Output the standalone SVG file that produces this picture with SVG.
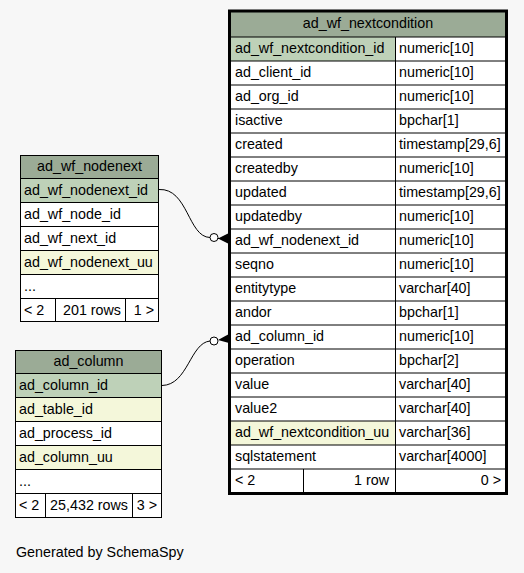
<svg xmlns="http://www.w3.org/2000/svg" width="524" height="573" viewBox="0 0 524 573">
<style>
text{font-family:"Liberation Sans",Arial,sans-serif;font-size:14.3px;fill:#000}
.c{text-anchor:middle}
.r{text-anchor:end}
.hd{fill:#9bab96}
.pk{fill:#bed1b8}
.ix{fill:#f4f7da}
.wh{fill:#ffffff}
.ln{stroke:#000;stroke-width:1;fill:none}
.tb{stroke:#000;stroke-width:3;fill:none}
.edge{stroke:#000;stroke-width:1;fill:none}
</style>
<rect width="524" height="573" fill="#f7f7f7"/>

<g id="connectors">
  <path class="edge" d="M159,189.5 C188,188 188,237 210,237.5"/>
  <circle cx="214" cy="237.5" r="4" fill="#fff" stroke="#000"/>
  <polygon points="218,238.5 229,233 229,244" fill="#000"/>
  <path class="edge" d="M218,238.5 L229,238.5"/>
  <path class="edge" d="M162,385.5 C188,385 190,343 210,341"/>
  <circle cx="214" cy="341" r="4" fill="#fff" stroke="#000"/>
  <polygon points="218,340 229,334 229,343" fill="#000"/>
</g>

<g id="ad_wf_nextcondition">
  <rect class="hd" x="230" y="12" width="276" height="25"/>
  <rect class="pk" x="230" y="37" width="165" height="24"/>
  <rect class="wh" x="395" y="37" width="111" height="24"/>
  <rect class="wh" x="230" y="61" width="276" height="360"/>
  <rect class="ix" x="230" y="421" width="165" height="24"/>
  <rect class="wh" x="395" y="421" width="111" height="48"/>
  <rect class="wh" x="230" y="445" width="165" height="24"/>
  <rect class="wh" x="230" y="469" width="276" height="24"/>
  <path class="ln" d="M230,37H506M230,61H506M230,85H506M230,109H506M230,133H506M230,157H506M230,181H506M230,205H506M230,229H506M230,253H506M230,277H506M230,301H506M230,325H506M230,349H506M230,373H506M230,397H506M230,421H506M230,445H506M230,469H506M395.5,37V493M303.5,469V493"/>
  <rect class="tb" x="229.5" y="11" width="277" height="482.5"/>
  <text class="c" x="368" y="28">ad_wf_nextcondition</text>
  <text x="235" y="53">ad_wf_nextcondition_id</text><text x="399" y="53">numeric[10]</text>
  <text x="235" y="77">ad_client_id</text><text x="399" y="77">numeric[10]</text>
  <text x="235" y="101">ad_org_id</text><text x="399" y="101">numeric[10]</text>
  <text x="235" y="125">isactive</text><text x="399" y="125">bpchar[1]</text>
  <text x="235" y="149">created</text><text x="399" y="149">timestamp[29,6]</text>
  <text x="235" y="173">createdby</text><text x="399" y="173">numeric[10]</text>
  <text x="235" y="197">updated</text><text x="399" y="197">timestamp[29,6]</text>
  <text x="235" y="221">updatedby</text><text x="399" y="221">numeric[10]</text>
  <text x="235" y="245">ad_wf_nodenext_id</text><text x="399" y="245">numeric[10]</text>
  <text x="235" y="269">seqno</text><text x="399" y="269">numeric[10]</text>
  <text x="235" y="293">entitytype</text><text x="399" y="293">varchar[40]</text>
  <text x="235" y="317">andor</text><text x="399" y="317">bpchar[1]</text>
  <text x="235" y="341">ad_column_id</text><text x="399" y="341">numeric[10]</text>
  <text x="235" y="365">operation</text><text x="399" y="365">bpchar[2]</text>
  <text x="235" y="389">value</text><text x="399" y="389">varchar[40]</text>
  <text x="235" y="413">value2</text><text x="399" y="413">varchar[40]</text>
  <text x="235" y="437">ad_wf_nextcondition_uu</text><text x="399" y="437">varchar[36]</text>
  <text x="235" y="461">sqlstatement</text><text x="399" y="461">varchar[4000]</text>
  <text x="235" y="485">&lt; 2</text><text class="r" x="389" y="485">1 row</text><text class="r" x="501" y="485">0 &gt;</text>
</g>

<g id="ad_wf_nodenext">
  <rect class="hd" x="20.5" y="155.5" width="138" height="23"/>
  <rect class="pk" x="20.5" y="178.5" width="138" height="24"/>
  <rect class="wh" x="20.5" y="202.5" width="138" height="48"/>
  <rect class="ix" x="20.5" y="250.5" width="138" height="24"/>
  <rect class="wh" x="20.5" y="274.5" width="138" height="47"/>
  <path class="ln" d="M20.5,178.5H158.5M20.5,202.5H158.5M20.5,226.5H158.5M20.5,250.5H158.5M20.5,274.5H158.5M20.5,298.5H158.5M55.5,298.5V321.5M125.5,298.5V321.5"/>
  <rect class="ln" x="20.5" y="155.5" width="138" height="166"/>
  <text class="c" x="89.5" y="171">ad_wf_nodenext</text>
  <text x="24" y="195">ad_wf_nodenext_id</text>
  <text x="24" y="219">ad_wf_node_id</text>
  <text x="24" y="243">ad_wf_next_id</text>
  <text x="24" y="267">ad_wf_nodenext_uu</text>
  <text x="24" y="291">...</text>
  <text x="24" y="315">&lt; 2</text><text class="r" x="121" y="315">201 rows</text><text class="r" x="154" y="315">1 &gt;</text>
</g>

<g id="ad_column">
  <rect class="hd" x="15.5" y="350.5" width="146" height="23"/>
  <rect class="pk" x="15.5" y="373.5" width="146" height="24"/>
  <rect class="ix" x="15.5" y="397.5" width="146" height="24"/>
  <rect class="wh" x="15.5" y="421.5" width="146" height="24"/>
  <rect class="ix" x="15.5" y="445.5" width="146" height="24"/>
  <rect class="wh" x="15.5" y="469.5" width="146" height="48"/>
  <path class="ln" d="M15.5,373.5H161.5M15.5,397.5H161.5M15.5,421.5H161.5M15.5,445.5H161.5M15.5,469.5H161.5M15.5,493.5H161.5M45.5,493.5V517.5M132.5,493.5V517.5"/>
  <rect class="ln" x="15.5" y="350.5" width="146" height="167"/>
  <text class="c" x="88.5" y="366">ad_column</text>
  <text x="19" y="390">ad_column_id</text>
  <text x="19" y="414">ad_table_id</text>
  <text x="19" y="438">ad_process_id</text>
  <text x="19" y="462">ad_column_uu</text>
  <text x="19" y="486">...</text>
  <text x="19" y="510">&lt; 2</text><text class="r" x="128" y="510">25,432 rows</text><text class="r" x="157" y="510">3 &gt;</text>
</g>

<text x="16" y="557">Generated by SchemaSpy</text>
</svg>
